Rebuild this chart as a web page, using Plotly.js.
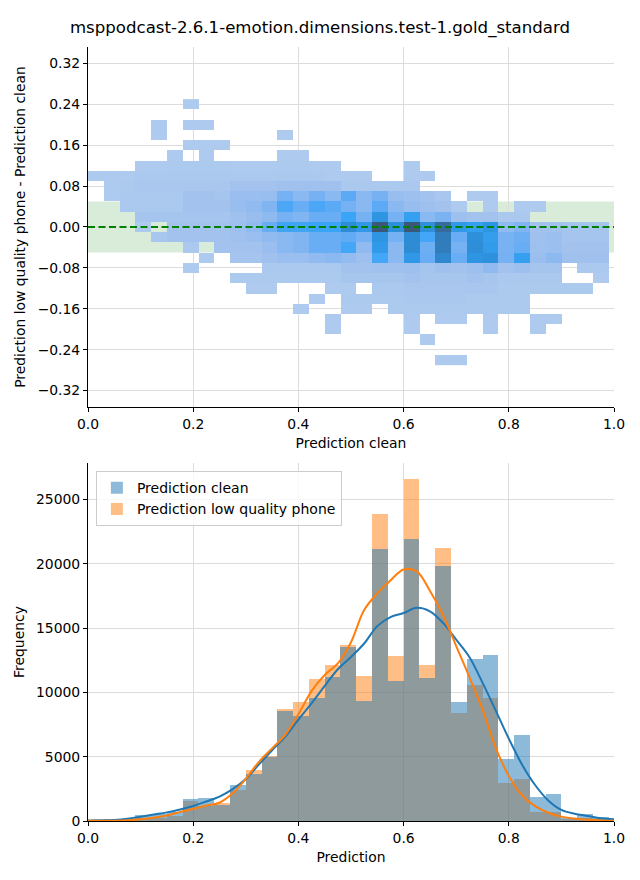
<!DOCTYPE html>
<html><head><meta charset="utf-8">
<script src="https://cdn.plot.ly/plotly-3.0.1.min.js"></script>
<style>html,body{margin:0;padding:0;background:#fff}</style>
</head><body><div id="chart" style="width:640px;height:880px"></div>
<script>
// ---------------- DATA ----------------
const chartTitle = "msppodcast-2.6.1-emotion.dimensions.test-1.gold_standard";
const binWidth = 0.03;          // histogram bin width on "Prediction"
const nBins = 33;
const tolerance = 0.05;         // green band half width

// difference bin centres (top row first)
const diffCenters = [0.24,0.22,0.20,0.18,0.16,0.14,0.12,0.10,0.08,0.06,0.04,0.02,0.00,
  -0.02,-0.04,-0.06,-0.08,-0.10,-0.12,-0.14,-0.16,-0.18,-0.20,-0.22,-0.24,-0.26];

// 2D histogram density levels (rows follow diffCenters, 33 columns on Prediction clean)
const density2d = [
 [0,0,0,0,0,0,1,0,0,0,0,0,0,0,0,0,0,0,0,0,0,0,0,0,0,0,0,0,0,0,0,0,0],
 [0,0,0,0,0,0,0,0,0,0,0,0,0,0,0,0,0,0,0,0,0,0,0,0,0,0,0,0,0,0,0,0,0],
 [0,0,0,0,1,0,1,1,0,0,0,0,0,0,0,0,0,0,0,0,0,0,0,0,0,0,0,0,0,0,0,0,0],
 [0,0,0,0,1,0,0,0,0,0,0,0,1,0,0,0,0,0,0,0,0,0,0,0,0,0,0,0,0,0,0,0,0],
 [0,0,0,0,0,0,1,1,1,0,0,0,0,0,0,0,0,0,0,0,0,0,0,0,0,0,0,0,0,0,0,0,0],
 [0,0,0,0,0,1,0,1,0,0,0,0,1,1,0,0,0,0,0,0,0,0,0,0,0,0,0,0,0,0,0,0,0],
 [0,0,0,1,1,1.2,1.2,1.2,1.2,1,1,1,1.2,1.2,1,1,0,0,0,0,1,0,0,0,0,0,0,0,0,0,0,0,0],
 [1,1,1,1.3,1.3,1.3,1.3,1.3,1.3,1.3,1.3,1.3,1.3,1.3,1.3,1,1,1,0,0,1,1,0,0,0,0,0,0,0,0,0,0,0],
 [0,1,1.2,1.5,1.5,1.5,1.5,1.5,1.5,2,2,2,2.3,2.3,2.3,2.3,1.3,1.3,1.3,1.3,1.3,0,0,0,0,0,0,0,0,0,0,0,0],
 [0,1,1.3,1.3,1.3,1.3,2,2,1.8,2.8,2.8,3,5,4,5,4,6,4,5,3,2.5,2,1.5,0,1,1,0,0,0,0,0,0,0],
 [0,0,1.3,1.3,1.3,1.3,2,2,2,3,3.5,4.5,6.5,5.5,6.5,6,5,4,6,4,3,2.5,2,1,0,1,0,1,1,0,0,0,0],
 [0,0,0,1.7,1.7,1.7,1.7,1.7,1.7,2.3,3,3.7,5,4.5,5.5,5.5,7,5,8,5,7.3,4,4.7,2.5,2,2,1.3,1.3,0,0,0,0,0],
 [0,0,0,1,0,2,2,2,2,2.5,3.5,5.5,6.8,6.8,7,7,8.5,7.8,11,8.3,11,8.3,10,7.7,7.3,8,3.5,4.5,2,2,1.7,1.7,1.7],
 [0,0,0,0,1.5,2,2,2,2,2.3,2.8,3.5,4,4.5,5.5,5.5,5.8,5,8,5,8.5,6.7,9.3,5.5,8.3,7.5,4.8,5.3,2.3,2.7,1.8,1.8,1.8],
 [0,0,0,0,0,0,1.3,0,2,2,2,2.8,4,4.5,5.5,5.5,6.7,3.5,7.7,4,8.5,5.3,9.3,5,8.4,7.6,4.8,5.5,2.5,2.7,2,2,2],
 [0,0,0,0,0,0,0,1,0,1.7,1.7,2.3,2.8,2.8,3.5,4,3.3,2.5,6.7,4,7.8,5.5,8.8,5.5,8,8.2,5,7.3,2.8,3.8,2.3,2.3,2.3],
 [0,0,0,0,0,0,1,0,0,0,0,1.3,1.3,1.3,1.3,1.3,2,2,2.3,2.3,2.5,1.8,2.3,2,2.5,3.5,2,2.5,1.7,1.7,0,1.3,1.3],
 [0,0,0,0,0,0,0,0,0,1.2,1.2,1.2,1.2,1.2,1.2,1.2,1.6,1.6,1.6,1.6,2,1.6,1.6,1.6,2,1.6,1.3,1.3,1.3,1.3,0,0,1],
 [0,0,0,0,0,0,0,0,0,0,1,1,0,0,0,1,1,0,1.3,1.3,1.5,1.5,1.5,1.5,1.5,1.5,1.2,1.2,1.2,1.2,1.2,1.2,0],
 [0,0,0,0,0,0,0,0,0,0,0,0,0,0,1,0,1.2,1.2,1.2,1.2,1.4,1.4,1.4,1.4,1.2,1.2,1.2,1.2,0,0,0,0,0],
 [0,0,0,0,0,0,0,0,0,0,0,0,0,1,0,0,1,1,0,1.2,1.2,1.2,1.2,1.2,1.2,1.2,1.2,1.2,0,0,0,0,0],
 [0,0,0,0,0,0,0,0,0,0,0,0,0,0,0,1,0,0,0,0,1,0,1,1,0,1,0,0,1,1,0,0,0],
 [0,0,0,0,0,0,0,0,0,0,0,0,0,0,0,1,0,0,0,0,1,0,0,0,0,1,0,0,1,0,0,0,0],
 [0,0,0,0,0,0,0,0,0,0,0,0,0,0,0,0,0,0,0,0,0,1,0,0,0,0,0,0,0,0,0,0,0],
 [0,0,0,0,0,0,0,0,0,0,0,0,0,0,0,0,0,0,0,0,0,0,0,0,0,0,0,0,0,0,0,0,0],
 [0,0,0,0,0,0,0,0,0,0,0,0,0,0,0,0,0,0,0,0,0,0,1,1,0,0,0,0,0,0,0,0,0]
];

// histogram counts per bin (33 bins of width 0.03 from 0)
const cleanCounts = [60,120,150,440,540,730,1690,1760,1260,2790,3670,4950,8590,8150,9530,11200,13520,9320,21170,10890,21950,11090,19840,9220,12580,12890,4840,6720,1875,2110,200,560,330];
const phoneCounts = [40,60,90,230,240,420,1530,1170,1400,2420,3980,5080,8670,9240,11010,12110,13670,11250,23830,12810,26560,12110,21250,8390,10550,9530,2920,3280,730,730,170,250,130];

// KDE curves
const kdeX = [0,0.025,0.05,0.075,0.1,0.125,0.15,0.175,0.2,0.225,0.25,0.275,0.3,0.325,0.35,0.375,0.4,0.425,0.45,0.475,0.5,0.525,0.55,0.575,0.6,0.625,0.65,0.675,0.7,0.725,0.75,0.775,0.8,0.825,0.85,0.875,0.9,0.925,0.95,0.975,1.0];
const kdeClean = [30,50,80,170,330,500,670,900,1170,1520,1900,2480,3260,4400,5500,6560,7890,9150,10500,11800,12750,13800,15150,15850,16170,16570,16300,15400,14100,12750,10760,8600,6400,4400,2800,1600,860,560,390,220,130];
const kdePhone = [10,15,25,60,140,250,420,700,940,1200,1420,2150,3280,4600,5650,6700,8300,10100,11350,12250,13900,16400,17700,18700,19550,19400,17900,16000,13600,11200,8670,5700,3500,2000,1150,640,340,190,90,40,20];

const xTicks = [0,0.2,0.4,0.6,0.8,1.0];
const diffTicks = [-0.32,-0.24,-0.16,-0.08,0,0.08,0.16,0.24,0.32];
const freqTicks = [0,5000,10000,15000,20000,25000];

// ---------------- BUILD ----------------
const xEdges = [];
for (let i = 0; i <= nBins; i++) xEdges.push(+(i*binWidth).toFixed(4));
const binCenters = [];
for (let i = 0; i < nBins; i++) binCenters.push(+((i+0.5)*binWidth).toFixed(4));

const yCentersAsc = diffCenters.slice().reverse();
const zAsc = density2d.slice().reverse().map(r => r.map(v => v > 0 ? v : null));

const cmap = [
 [0.0,'#aecaee'],[0.1,'#a3c3ee'],[0.2,'#98bdef'],[0.3,'#8ab8f1'],[0.4,'#75b1f3'],
 [0.5,'#5caaf5'],[0.6,'#3aa4f6'],[0.7,'#2d95e2'],[0.8,'#2f83c8'],[0.9,'#376b9c'],[1.0,'#3b5878']
];

const FS = 13.9;

const traces = [
 {type:'heatmap', x:xEdges, y:yCentersAsc, z:zAsc, colorscale:cmap, zmin:1, zmax:11,
  showscale:false, hoverinfo:'skip', xaxis:'x', yaxis:'y', showlegend:false},
 {type:'bar', x:binCenters, y:phoneCounts, width:binWidth, name:'Prediction low quality phone',
  marker:{color:'#ff7f0e', line:{width:0}}, opacity:0.5, xaxis:'x2', yaxis:'y2', legendrank:2},
 {type:'bar', x:binCenters, y:cleanCounts, width:binWidth, name:'Prediction clean',
  marker:{color:'#1f77b4', line:{width:0}}, opacity:0.5, xaxis:'x2', yaxis:'y2', legendrank:1},
 {type:'scatter', mode:'lines', x:kdeX, y:kdeClean, line:{color:'#1f77b4', width:2, shape:'spline'},
  xaxis:'x2', yaxis:'y2', showlegend:false, hoverinfo:'skip'},
 {type:'scatter', mode:'lines', x:kdeX, y:kdePhone, line:{color:'#ff7f0e', width:2, shape:'spline'},
  xaxis:'x2', yaxis:'y2', showlegend:false, hoverinfo:'skip'}
];

const axisBase = {
  showline:true, linecolor:'#000', linewidth:1, ticks:'outside', ticklen:4, tickcolor:'#000', tickwidth:1,
  showgrid:true, gridcolor:'#dcdcdc', gridwidth:1, zeroline:false, mirror:false,
  tickfont:{size:FS, color:'#000'}
};

const layout = {
  width:640, height:880,
  margin:{l:88, r:26, t:47, b:59},
  paper_bgcolor:'#fff', plot_bgcolor:'#fff',
  font:{family:'DejaVu Sans', size:FS, color:'#000'},
  title:{text:chartTitle, x:0.5, xanchor:'center', y:1-27/880, yanchor:'middle', font:{size:16.6, color:'#000'}},
  barmode:'overlay', bargap:0,
  showlegend:true,
  xaxis:Object.assign({}, axisBase, {domain:[0,1], anchor:'y', range:[0,1], tickvals:xTicks, tickformat:'.1f',
     title:{text:'Prediction clean', standoff:7, font:{size:FS}}}),
  yaxis:Object.assign({}, axisBase, {domain:[0.5349,1], anchor:'x', range:[-0.352,0.352], tickvals:diffTicks, tickformat:'.2f',
     title:{text:'Prediction low quality phone - Prediction clean', standoff:8, font:{size:FS}}}),
  xaxis2:Object.assign({}, axisBase, {domain:[0,1], anchor:'y2', range:[0,1], tickvals:xTicks, tickformat:'.1f',
     title:{text:'Prediction', standoff:7, font:{size:FS}}}),
  yaxis2:Object.assign({}, axisBase, {domain:[0,0.4625], anchor:'x2', range:[0,27830], tickvals:freqTicks, tickformat:'d',
     title:{text:'Frequency', standoff:8, font:{size:FS}}}),
  legend:{x:0.015, y:0.452, xanchor:'left', yanchor:'top', bgcolor:'rgba(255,255,255,0.8)',
     bordercolor:'#cccccc', borderwidth:1, font:{size:14, color:'#000'}, traceorder:'normal'},
  shapes:[
    {type:'rect', xref:'x domain', yref:'y', x0:0, x1:1, y0:-tolerance, y1:tolerance,
     fillcolor:'rgba(0,128,0,0.15)', line:{width:0}, layer:'below'},
    {type:'line', xref:'x domain', yref:'y', x0:0, x1:1, y0:0, y1:0,
     line:{color:'#008000', width:2, dash:'7px,3.5px'}, layer:'above'}
  ]
};

Plotly.newPlot('chart', traces, layout, {displayModeBar:false, staticPlot:true});
</script></body></html>
